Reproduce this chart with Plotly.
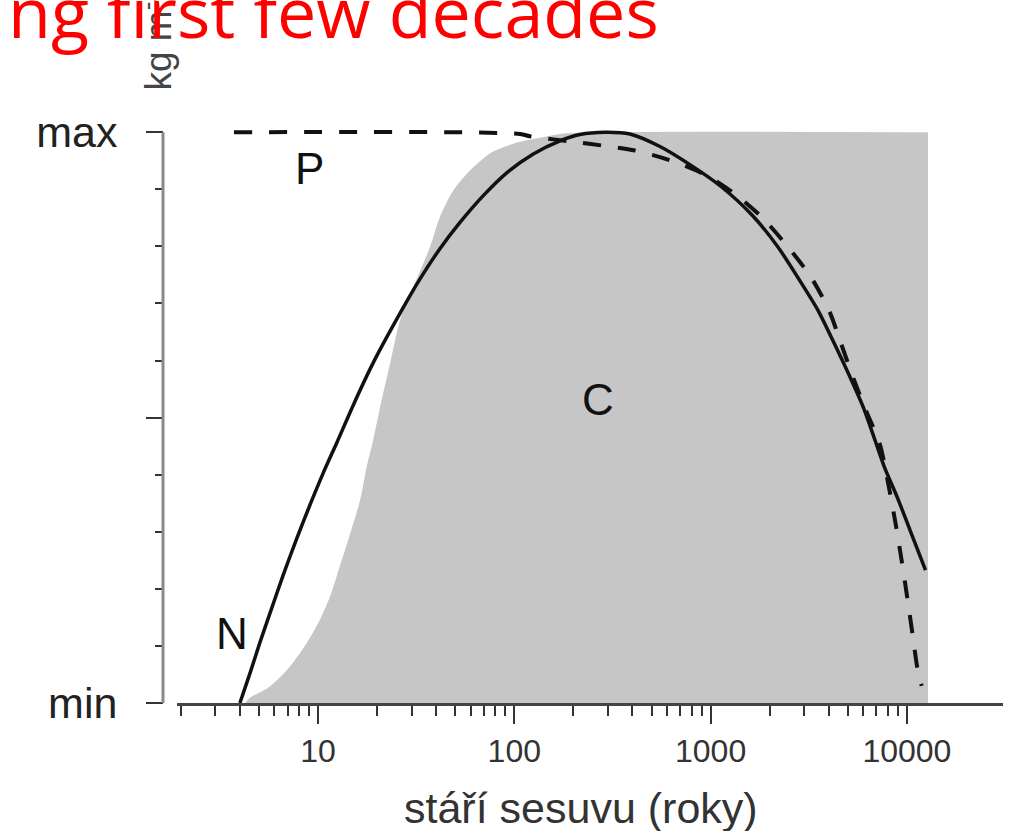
import math
import plotly.graph_objects as go

# ---------------- data ----------------
# age of landslide (years) vs. normalised value (min=0, max=1)
solid_age = [4.0, 4.5, 5.06, 5.69, 6.66, 7.79, 9.1, 10.6, 12.5, 15.4, 19.1, 26.2, 33.1,
             41.8, 52.9, 69.5, 91.5, 125, 171, 216, 290, 388, 552, 795, 1130, 1625, 2194,
             2788, 3525, 4238, 5070, 6045, 6839, 7709, 8946, 10370, 12440]
solid_val = [0.0, 0.052, 0.106, 0.157, 0.225, 0.288, 0.347, 0.402, 0.457, 0.528, 0.596,
             0.683, 0.743, 0.796, 0.842, 0.889, 0.929, 0.962, 0.985, 0.996, 1.0, 0.997, 0.975,
             0.942, 0.905, 0.855, 0.800, 0.745, 0.688, 0.632, 0.575, 0.515, 0.463, 0.412,
             0.360, 0.303, 0.233]

dot_age = [3.73, 107, 120, 204, 277, 412, 621, 948, 1316, 1827, 2479, 3248, 4010, 4617, 5378,
           6264, 7261, 8100, 8750, 9400, 10050, 10700, 11400, 11900]
dot_val = [1.0, 0.997, 0.993, 0.983, 0.977, 0.968, 0.951, 0.925, 0.893, 0.851, 0.799, 0.746,
           0.688, 0.630, 0.566, 0.508, 0.455, 0.378, 0.315, 0.250, 0.184, 0.119, 0.054, 0.030]

fill_age = [4.25, 4.5, 5.69, 7.2, 8.76, 10.2, 11.5, 12.9, 14.6, 16.4, 17.7, 19.1, 21.1, 23.3,
            26.2, 30.6, 37.2, 41.8, 48.9, 59.5, 75.2, 98.8, 125, 171, 243, 12810]
fill_val = [0.0, 0.009, 0.029, 0.064, 0.105, 0.145, 0.186, 0.239, 0.297, 0.356, 0.414, 0.461,
            0.531, 0.595, 0.671, 0.729, 0.799, 0.852, 0.898, 0.933, 0.963, 0.980, 0.988, 0.997,
            1.0, 1.0]

x_major = [10, 100, 1000, 10000]
x_major_text = ["10", "100", "1000", "10000"]
x_minor = [m * 10 ** k for k in range(0, 4) for m in range(2, 10)]
y_major = [0, 0.5, 1]
y_major_text = ["min", " ", "max"]
y_minor = [0.1, 0.2, 0.3, 0.4, 0.6, 0.7, 0.8, 0.9]

labels = [("P", 9.1, 0.937), ("C", 267, 0.531), ("N", 3.63, 0.121)]

title_text = "ng first few decades"
ytitle_text = "kg m<sup>-2</sup>"
xtitle_text = "stáří sesuvu (roky)"

# ---------------- figure ----------------
W, H = 1015, 831
ml, mr, mt, mb = 163, 12, 118, 128
pw = W - ml - mr
ph = H - mt - mb

fig = go.Figure()

fig.add_trace(go.Scatter(x=fill_age, y=fill_val, mode="lines", fill="tozeroy",
                         fillcolor="#c6c6c6", line=dict(width=0, color="#c6c6c6",
                                                        shape="spline", smoothing=0.8),
                         hoverinfo="skip", showlegend=False))
fig.add_trace(go.Scatter(x=dot_age, y=dot_val, mode="lines",
                         line=dict(color="#111111", width=4, dash="18px,17px",
                                   shape="spline", smoothing=0.8),
                         showlegend=False))
fig.add_trace(go.Scatter(x=solid_age, y=solid_val, mode="lines",
                         line=dict(color="#111111", width=3.5, shape="spline", smoothing=0.7),
                         showlegend=False))

for t, ax, ay in labels:
    fig.add_annotation(x=math.log10(ax), y=ay, xref="x", yref="y", text=t, showarrow=False,
                       font=dict(family="Liberation Sans", size=44, color="#111111"),
                       xanchor="center", yanchor="middle")

# rotated y label (drawn first so the title lies over it)
fig.add_annotation(x=(156 - ml) / pw, y=(703 - 93) / ph, xref="paper", yref="paper",
                   text=ytitle_text, showarrow=False, textangle=-90,
                   xanchor="center", yanchor="bottom",
                   font=dict(family="Liberation Sans", size=37, color="#444444"))
# title (red, clipped at top)
fig.add_annotation(x=(661 - ml) / pw, y=(703 - 11) / ph, xref="paper", yref="paper",
                   text=title_text, showarrow=False, xanchor="right", yanchor="middle",
                   font=dict(family="Open Sans", size=70, color="#ff0000"))
# x axis title
fig.add_annotation(x=(581 - ml) / pw, y=(703 - 808) / ph, xref="paper", yref="paper",
                   text=xtitle_text, showarrow=False, xanchor="center", yanchor="middle",
                   font=dict(family="Liberation Sans", size=43, color="#333333"))

# y axis line
fig.add_shape(type="line", xref="paper", yref="y", x0=0, x1=0, y0=0, y1=1,
              line=dict(color="#8a8a8a", width=3))

fig.update_layout(
    width=W, height=H,
    margin=dict(l=ml, r=mr, t=mt, b=mb, pad=0),
    paper_bgcolor="white", plot_bgcolor="white",
    showlegend=False,
    xaxis=dict(type="log", range=[0.2817, 4.4896], domain=[14 / pw, 1],
               showgrid=False, zeroline=False,
               showline=True, linecolor="#444444", linewidth=3,
               tickmode="array", tickvals=x_major, ticktext=x_major_text,
               ticks="outside", ticklen=18, tickwidth=2, tickcolor="#333333",
               tickfont=dict(family="Liberation Sans", size=32, color="#333333"),
               minor=dict(tickmode="array", tickvals=x_minor, ticks="outside",
                          ticklen=10, tickwidth=2, tickcolor="#333333", showgrid=False)),
    yaxis=dict(range=[0, 1.025], anchor="free", position=0,
               showgrid=False, zeroline=False, showline=False,
               tickmode="array", tickvals=y_major, ticktext=y_major_text,
               ticks="outside", ticklen=17, tickwidth=2, tickcolor="#333333",
               tickfont=dict(family="Liberation Sans", size=43, color="#222222"),
               ticklabelstandoff=20,
               minor=dict(tickmode="array", tickvals=y_minor, ticks="outside",
                          ticklen=8, tickwidth=2, tickcolor="#333333", showgrid=False)),
)

fig.write_html("out.html")
